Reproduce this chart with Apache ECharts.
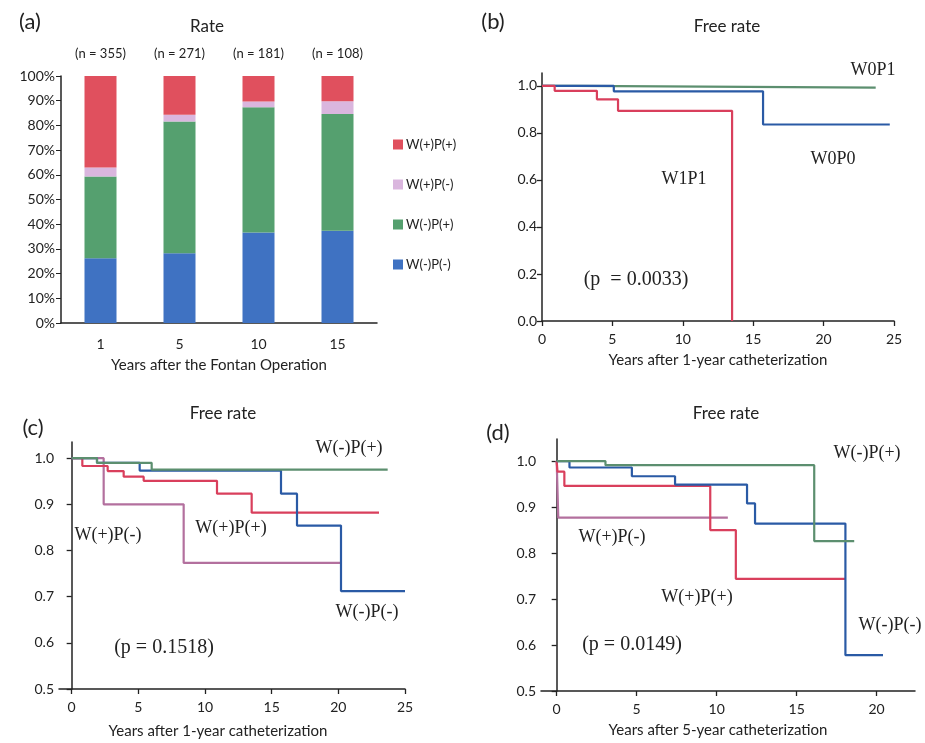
<!DOCTYPE html>
<html>
<head>
<meta charset="utf-8">
<script src="https://cdn.jsdelivr.net/npm/echarts@6/dist/echarts.min.js"></script>
<style>
  html, body { margin: 0; padding: 0; background: #fff; }
  #chart { width: 925px; height: 743px; }
</style>
</head>
<body>
<div id="chart"></div>
<script>
// (a) stacked rate bars, percent of patients
var years = ['1', '5', '10', '15'];
var nLabels = ['(n = 355)', '(n = 271)', '(n = 181)', '(n = 108)'];
var wNegPNeg = [26.2, 28.2, 36.6, 37.3];
var wNegPPos = [33.1, 53.4, 50.7, 47.3];
var wPosPNeg = [3.7, 2.7, 2.4, 5.2];
var wPosPPos = [37.0, 15.7, 10.3, 10.2];

// (b) free rate after 1-year catheterization  [year, rate]
var bW0P1 = [[0, 1.0], [2.4, 0.993], [23.7, 0.993]];
var bW0P0 = [[0, 1.0], [5.1, 0.977], [15.7, 0.836], [24.7, 0.836]];
var bW1P1 = [[0, 1.0], [0.9, 0.979], [3.9, 0.943], [5.4, 0.894], [13.5, 0.0]];

// (c) free rate after 1-year catheterization
var cNegPos = [[0, 1.0], [1.9, 0.99], [6.0, 0.975], [23.7, 0.975]];
var cNegNeg = [[0, 1.0], [1.9, 0.99], [5.1, 0.973], [15.7, 0.923], [16.9, 0.854], [20.2, 0.712], [25, 0.712]];
var cPosPos = [[0, 1.0], [0.8, 0.983], [2.7, 0.972], [3.9, 0.96], [5.4, 0.951], [10.9, 0.923], [13.5, 0.882], [23.05, 0.882]];
var cPosNeg = [[0, 1.0], [2.4, 0.9], [8.4, 0.773], [20.2, 0.773]];

// (d) free rate after 5-year catheterization
var dNegPos = [[0, 1.0], [3.05, 0.991], [16.1, 0.826], [18.6, 0.826]];
var dNegNeg = [[0, 1.0], [0.8, 0.986], [4.7, 0.967], [7.4, 0.949], [11.9, 0.908], [12.4, 0.864], [18.05, 0.578], [20.4, 0.578]];
var dPosPos = [[0, 1.0], [0.05, 0.977], [0.48, 0.946], [9.6, 0.85], [11.2, 0.744], [18.05, 0.744]];
var dPosNeg = [[0, 1.0], [0.1, 0.877], [10.7, 0.877]];

var ticks1 = [0, 0.2, 0.4, 0.6, 0.8, 1.0];
var ticksHalf = [0.5, 0.6, 0.7, 0.8, 0.9, 1.0];
var xTicks25 = [0, 5, 10, 15, 20, 25];
var xTicks20 = [0, 5, 10, 15, 20];

var sans = 'Lato';
var serif = 'Liberation Serif';
var ink = '#222';

var barColors = { pp: '#e0505e', pn: '#dab6de', np: '#55a06f', nn: '#3f72c2' };
var lineColors = { pp: '#d93f5c', pn: '#b3709e', np: '#5c8f6f', nn: '#2a5aa5' };

function valAxis(grid, min, max, custom, dec, margin, extra) {
  var ax = {
    type: 'value', gridIndex: grid, min: min, max: max,
    splitLine: { show: false },
    axisLine: { show: true, lineStyle: { color: ink, width: 1.5 } },
    axisTick: { show: true, length: 5, customValues: custom, lineStyle: { color: ink, width: 1.3 } },
    axisLabel: {
      customValues: custom, color: '#222', fontFamily: sans, fontSize: 14, margin: margin,
      formatter: function (v) { return v.toFixed(dec); }
    }
  };
  for (var k in extra) ax[k] = extra[k];
  return ax;
}

function xName(text, gap, pad) {
  return {
    name: text, nameLocation: 'middle', nameGap: gap,
    nameTextStyle: { color: '#222', fontFamily: sans, fontSize: 15, padding: pad || 0 }
  };
}

function bar(name, data, color) {
  return {
    name: name, type: 'bar', stack: 'rate', barWidth: 32,
    xAxisIndex: 0, yAxisIndex: 0, data: data,
    itemStyle: { color: color }
  };
}

function km(name, data, color, xi, yi) {
  return {
    name: name, type: 'line', step: 'end', showSymbol: false, silent: true,
    xAxisIndex: xi, yAxisIndex: yi, data: data,
    lineStyle: { color: color, width: 2.2 }
  };
}

function txt(x, y, text, size, font) {
  return {
    type: 'text', x: x, y: y,
    style: { text: text, fill: '#222', fontSize: size, fontFamily: font || serif, align: 'center', verticalAlign: 'middle' }
  };
}

function head(text, x, y) {
  return { text: text, left: x, top: y, textAlign: 'center', textVerticalAlign: 'middle',
    textStyle: { fontFamily: sans, fontSize: 17, fontWeight: 'normal', color: '#222' } };
}

var myChart = echarts.init(document.getElementById('chart'));
var option = {
  backgroundColor: '#fff',
  animation: false,
  title: [
    head('Rate', 202, 22),
    head('Free rate', 722, 22),
    head('Free rate', 218, 409),
    head('Free rate', 721, 409)
  ],
  legend: {
    orient: 'vertical', left: 388, top: 133, itemGap: 27,
    itemWidth: 10, itemHeight: 10, icon: 'rect',
    data: ['W(+)P(+)', 'W(+)P(-)', 'W(-)P(+)', 'W(-)P(-)'],
    textStyle: { fontFamily: sans, fontSize: 13, color: '#222', padding: [0, 0, 0, -2] }
  },
  grid: [
    { left: 61, top: 76, width: 316, height: 247 },
    { left: 542, top: 73, width: 352, height: 248 },
    { left: 59, top: 442, width: 346, height: 247 },
    { left: 541, top: 439, width: 374, height: 252 }
  ],
  xAxis: [
    Object.assign({
      type: 'category', gridIndex: 0, data: years,
      axisLine: { lineStyle: { color: ink, width: 1.5 } },
      axisTick: { show: false },
      axisLabel: { color: '#222', fontFamily: sans, fontSize: 14, margin: 14 }
    }, xName('Years after the Fontan Operation', 35)),
    {
      type: 'category', gridIndex: 0, data: nLabels, position: 'top',
      axisLine: { show: false }, axisTick: { show: false },
      axisLabel: { color: '#222', fontFamily: sans, fontSize: 13, margin: 16 }
    },
    valAxis(1, 0, 25, xTicks25, 0, 11, xName('Years after 1-year catheterization', 32)),
    valAxis(2, -0.95, 25, xTicks25, 0, 11, xName('Years after 1-year catheterization', 35, [0, 28, 0, 0])),
    valAxis(3, -0.98, 22.4, xTicks20, 0, 11, xName('Years after 5-year catheterization', 32, [0, 20, 0, 0]))
  ],
  yAxis: [
    {
      type: 'value', gridIndex: 0, min: 0, max: 100, interval: 10,
      splitLine: { show: false },
      axisLine: { show: true, lineStyle: { color: ink, width: 1.5 } },
      axisTick: { show: true, length: 5, lineStyle: { color: ink } },
      axisLabel: { formatter: '{value}%', color: '#222', fontFamily: sans, fontSize: 14, margin: 6 }
    },
    valAxis(1, 0, 1.055, ticks1, 1, 5, {}),
    valAxis(2, 0.5, 1.035, ticksHalf, 1, 5, {}),
    valAxis(3, 0.5, 1.048, ticksHalf, 1, 5, {})
  ],
  series: [
    bar('W(-)P(-)', wNegPNeg, barColors.nn),
    bar('W(-)P(+)', wNegPPos, barColors.np),
    bar('W(+)P(-)', wPosPNeg, barColors.pn),
    bar('W(+)P(+)', wPosPPos, barColors.pp),

    km('b W0P1', bW0P1, lineColors.np, 2, 1),
    km('b W0P0', bW0P0, lineColors.nn, 2, 1),
    km('b W1P1', bW1P1, lineColors.pp, 2, 1),

    km('c W(+)P(-)', cPosNeg, lineColors.pn, 3, 2),
    km('c W(+)P(+)', cPosPos, lineColors.pp, 3, 2),
    km('c W(-)P(-)', cNegNeg, lineColors.nn, 3, 2),
    km('c W(-)P(+)', cNegPos, lineColors.np, 3, 2),

    km('d W(+)P(-)', dPosNeg, lineColors.pn, 4, 3),
    km('d W(+)P(+)', dPosPos, lineColors.pp, 4, 3),
    km('d W(-)P(-)', dNegNeg, lineColors.nn, 4, 3),
    km('d W(-)P(+)', dNegPos, lineColors.np, 4, 3)
  ],
  graphic: [
    txt(30, 22, '(a)', 22, sans),
    txt(493, 22, '(b)', 22, sans),
    txt(33, 428, '(c)', 22, sans),
    txt(498, 433, '(d)', 22, sans),

    txt(873, 70, 'W0P1', 18),
    txt(833, 159, 'W0P0', 18),
    txt(684, 179, 'W1P1', 18),
    txt(636, 280, '(p  = 0.0033)', 20),

    txt(349, 448, 'W(-)P(+)', 18),
    txt(108, 535, 'W(+)P(-)', 18),
    txt(231, 528, 'W(+)P(+)', 18),
    txt(367, 612, 'W(-)P(-)', 18),
    txt(164, 648, '(p = 0.1518)', 20),

    txt(867, 453, 'W(-)P(+)', 18),
    txt(612, 537, 'W(+)P(-)', 18),
    txt(697, 597, 'W(+)P(+)', 18),
    txt(890, 625, 'W(-)P(-)', 18),
    txt(632, 645, '(p = 0.0149)', 20)
  ]
};
myChart.setOption(option);
</script>
</body>
</html>
